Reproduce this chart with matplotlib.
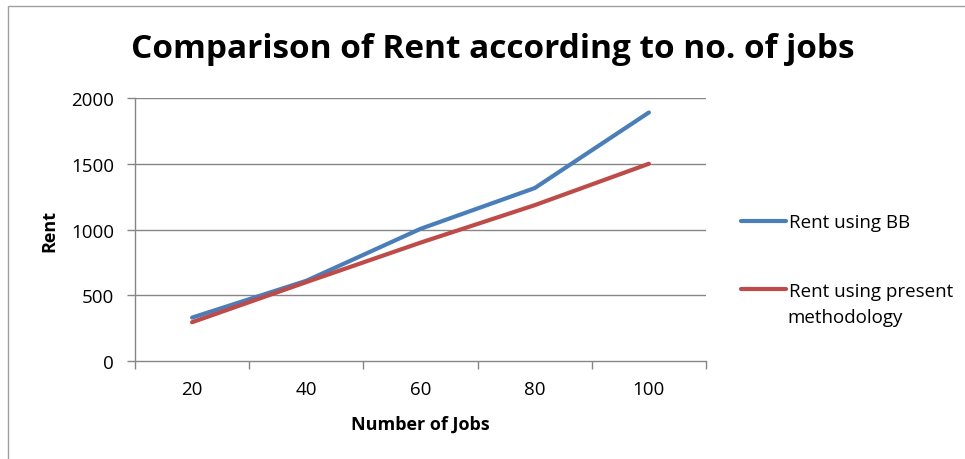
import matplotlib
matplotlib.use("Agg")
import matplotlib.pyplot as plt
from matplotlib.patches import Rectangle

jobs = [20, 40, 60, 80, 100]
rent_bb = [330, 610, 1005, 1315, 1890]
rent_present = [295, 600, 900, 1185, 1500]
yticks = [0, 500, 1000, 1500, 2000]

plt.rcParams['font.family'] = ['Open Sans', 'DejaVu Sans']

fig = plt.figure(figsize=(9.65, 4.6), dpi=100)
fig.patches.append(Rectangle((8/965, -0.1), 1.2, (460-7)/460 + 0.1, transform=fig.transFigure,
                             fill=False, edgecolor='#a0a0a0', linewidth=1))
ax = fig.add_axes([135/965, (460-362)/460, (706-135)/965, (362-99)/460])

grid_c = '#868686'
ax.plot(jobs, rent_bb, color='#4A7EBB', linewidth=3, solid_capstyle='round', label='Rent using BB', zorder=3)
ax.plot(jobs, rent_present, color='#BE4B48', linewidth=3, solid_capstyle='round',
        label='Rent using present', zorder=3)

fs = 13.5
ax.set_xlim(10, 110)
ax.set_ylim(0, 2000)
ax.set_yticks(yticks)
ax.set_yticklabels([str(v) for v in yticks], fontsize=fs)
ax.set_xticks(jobs)
ax.set_xticklabels([str(v) for v in jobs], fontsize=fs)
ax.tick_params(axis='x', length=0, pad=14)
ax.set_xticks([10, 30, 50, 70, 90, 110], minor=True)
ax.tick_params(axis='x', which='minor', length=6, color=grid_c, width=1)
ax.tick_params(axis='y', length=6, color=grid_c, width=1, pad=9)

for v in yticks[1:]:
    ax.axhline(v, color=grid_c, linewidth=1, zorder=1)
for s in ['top', 'right']:
    ax.spines[s].set_visible(False)
for s in ['left', 'bottom']:
    ax.spines[s].set_color(grid_c)
    ax.spines[s].set_linewidth(1)

ax.set_xlabel('Number of Jobs', fontsize=13, fontweight='bold', labelpad=12)
ax.set_ylabel('Rent', fontsize=13, fontweight='bold', labelpad=9)

fig.text(493/965, 1 - 50/460, 'Comparison of Rent according to no. of jobs',
         fontsize=24, fontweight='bold', ha='center', va='center')

leg = ax.legend(loc='upper left', bbox_to_anchor=(733/965, 1 - 207/460), bbox_transform=fig.transFigure,
                frameon=False, fontsize=fs, handlelength=2.4, handletextpad=0.2,
                labelspacing=2.67, borderaxespad=0)
fig.text(787/965, 1 - 318/460, 'methodology', fontsize=fs, ha='left', va='center')

fig.savefig('out.png', dpi=100)
